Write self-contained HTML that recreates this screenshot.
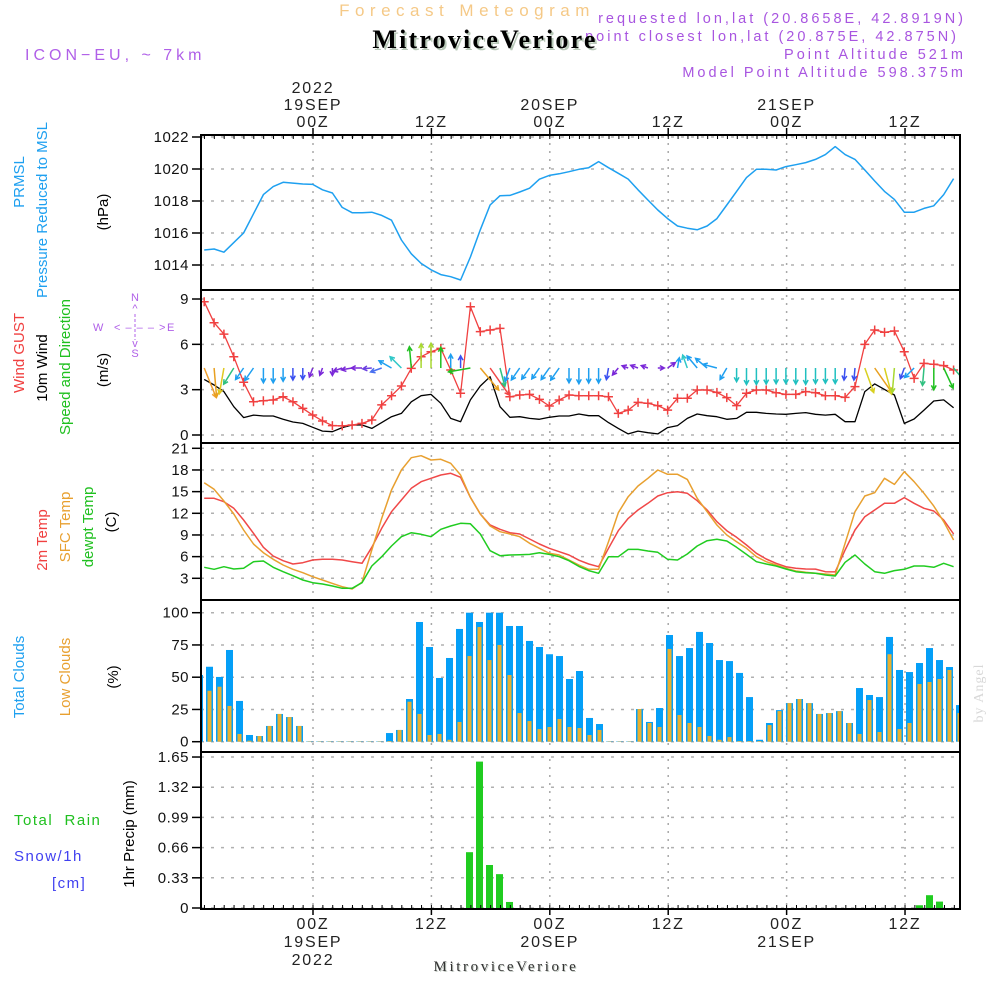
<!DOCTYPE html>
<html><head><meta charset="utf-8"><title>Meteogram MitroviceVeriore</title>
<style>
html,body{margin:0;padding:0;background:#fff;}
svg{display:block;font-family:"Liberation Sans",sans-serif;}
.t{font-size:16px;fill:#222;letter-spacing:1.8px;}
.tk{font-size:15px;fill:#111;letter-spacing:0.5px;}
.lab{font-size:15px;}
.pr{font-size:14.5px;fill:#a855e0;letter-spacing:3px;}
</style></head>
<body>
<svg id="chart" width="1000" height="1000" viewBox="0 0 1000 1000" xmlns="http://www.w3.org/2000/svg">
<defs>
<clipPath id="plotClip"><rect x="201" y="135" width="759" height="775"/></clipPath>
</defs>
<!-- header -->
<text x="467" y="16" text-anchor="middle" style="font-size:17px;fill:#f5c987;letter-spacing:5.5px">Forecast Meteogram</text>
<text class="pr" x="966" y="23" text-anchor="end">requested lon,lat (20.8658E, 42.8919N)</text>
<text class="pr" x="959" y="41" text-anchor="end">point closest lon,lat (20.875E, 42.875N)</text>
<text class="pr" x="966" y="59" text-anchor="end">Point Altitude 521m</text>
<text class="pr" x="966" y="77" text-anchor="end">Model Point Altitude 598.375m</text>
<text x="487" y="50" text-anchor="middle" style="font-family:'Liberation Serif',serif;font-weight:bold;font-size:26px;fill:#b8c8b8;letter-spacing:2.2px">MitroviceVeriore</text>
<text x="485" y="48" text-anchor="middle" style="font-family:'Liberation Serif',serif;font-weight:bold;font-size:26px;fill:#000;letter-spacing:2.2px">MitroviceVeriore</text>
<text x="25" y="60" style="font-size:16px;fill:#b060e8;letter-spacing:4px">ICON−EU, ~ 7km</text>

<g id="grid"></g>
<g id="marks" clip-path="url(#plotClip)"></g>
<g id="frames"></g>
<g id="axes"></g>

<!-- left labels -->
<g>
<text class="lab" transform="translate(24,182) rotate(-90)" text-anchor="middle" style="fill:#1ea0f0">PRMSL</text>
<text class="lab" transform="translate(47,210) rotate(-90)" text-anchor="middle" style="fill:#1ea0f0">Pressure Reduced to MSL</text>
<text class="lab" transform="translate(108,212) rotate(-90)" text-anchor="middle" style="fill:#000">(hPa)</text>
</g>
<g>
<text class="lab" transform="translate(24,353) rotate(-90)" text-anchor="middle" style="fill:#f04040">Wind GUST</text>
<text class="lab" transform="translate(47,368) rotate(-90)" text-anchor="middle" style="fill:#000">10m Wind</text>
<text class="lab" transform="translate(70,367) rotate(-90)" text-anchor="middle" style="fill:#20c020">Speed and Direction</text>
<text class="lab" transform="translate(108,370) rotate(-90)" text-anchor="middle" style="fill:#000">(m/s)</text>
<g style="font-size:11px;fill:#b060e8">
<text x="135" y="301" text-anchor="middle">N</text>
<text x="135" y="312" text-anchor="middle">^</text>
<text x="93" y="331">W</text>
<text x="114" y="331" style="letter-spacing:1px">&lt; ‒ ‒ ‒ &gt;</text>
<text x="167" y="331">E</text>
<text x="135" y="347" text-anchor="middle">v</text>
<text x="135" y="357" text-anchor="middle">S</text>
<line x1="135" y1="314" x2="135" y2="340" stroke="#b060e8" stroke-width="1" stroke-dasharray="3,2"/>
</g>
</g>
<g>
<text class="lab" transform="translate(47,540) rotate(-90)" text-anchor="middle" style="fill:#f04040">2m Temp</text>
<text class="lab" transform="translate(70,527) rotate(-90)" text-anchor="middle" style="fill:#e8a030">SFC Temp</text>
<text class="lab" transform="translate(93,527) rotate(-90)" text-anchor="middle" style="fill:#20c020">dewpt Temp</text>
<text class="lab" transform="translate(116,522) rotate(-90)" text-anchor="middle" style="fill:#000">(C)</text>
</g>
<g>
<text class="lab" transform="translate(24,677) rotate(-90)" text-anchor="middle" style="fill:#1ea0f0">Total Clouds</text>
<text class="lab" transform="translate(70,677) rotate(-90)" text-anchor="middle" style="fill:#e8a030">Low Clouds</text>
<text class="lab" transform="translate(118,677) rotate(-90)" text-anchor="middle" style="fill:#000">(%)</text>
</g>
<g>
<text x="14" y="825" style="font-size:15px;fill:#20c020;letter-spacing:1.5px" xml:space="preserve">Total  Rain</text>
<text x="14" y="861" style="font-size:15px;fill:#4040f0;letter-spacing:1.5px">Snow/1h</text>
<text x="52" y="888" style="font-size:15px;fill:#4040f0;letter-spacing:1.5px">[cm]</text>
<text class="lab" transform="translate(134,834) rotate(-90)" text-anchor="middle" style="fill:#000">1hr Precip (mm)</text>
</g>
<text transform="translate(983,693) rotate(-90)" text-anchor="middle" style="font-family:'Liberation Serif',serif;font-size:14px;fill:#d8d8d8;letter-spacing:1px">by Angel</text>
<text x="507" y="972" text-anchor="middle" style="font-family:'Liberation Serif',serif;font-size:15px;fill:#c0c8c0;letter-spacing:2.6px">MitroviceVeriore</text>
<text x="506" y="971" text-anchor="middle" style="font-family:'Liberation Serif',serif;font-size:15px;fill:#333;letter-spacing:2.6px">MitroviceVeriore</text>
</svg>
<script>
// ---------- data ----------
const pressure=[1014.94,1015.0,1014.8,1015.4,1016.0,1017.2,1018.4,1018.9,1019.17,1019.12,1019.06,1019.04,1018.7,1018.5,1017.6,1017.27,1017.27,1017.3,1017.1,1016.8,1015.56,1014.7,1014.1,1013.7,1013.4,1013.27,1013.06,1014.5,1016.2,1017.75,1018.33,1018.35,1018.56,1018.8,1019.36,1019.6,1019.7,1019.83,1019.98,1020.08,1020.46,1020.08,1019.73,1019.37,1018.7,1018.06,1017.44,1016.9,1016.44,1016.3,1016.2,1016.44,1016.9,1017.75,1018.6,1019.46,1019.98,1019.98,1019.94,1020.15,1020.27,1020.4,1020.6,1020.9,1021.4,1020.9,1020.6,1019.94,1019.25,1018.6,1018.1,1017.3,1017.3,1017.54,1017.7,1018.4,1019.4];
const gust=[8.82,7.43,6.68,5.18,3.49,2.2,2.27,2.32,2.53,2.2,1.76,1.32,0.93,0.62,0.6,0.66,0.77,0.99,1.99,2.6,3.24,4.41,5.18,5.51,5.73,4.3,2.76,8.49,6.84,6.95,7.06,2.53,2.65,2.69,2.36,1.92,2.32,2.65,2.6,2.6,2.6,2.53,1.43,1.65,2.16,2.1,1.94,1.65,2.43,2.43,2.98,2.98,2.82,2.47,1.94,2.76,2.98,2.98,2.8,2.69,2.69,2.87,2.8,2.6,2.6,2.49,3.2,6.0,6.95,6.8,6.88,5.51,3.75,4.74,4.68,4.59,4.3];
const wind=[3.68,3.31,2.87,1.87,1.15,1.32,1.26,1.26,1.04,0.86,0.77,0.51,0.26,0.22,0.49,0.66,0.66,0.44,0.82,1.21,1.43,2.2,2.6,2.69,2.1,1.1,0.88,2.32,3.24,3.86,1.87,1.17,1.21,1.1,1.04,1.17,1.26,1.26,1.39,1.28,1.28,0.82,0.44,0.07,0.26,0.15,0.07,0.49,0.62,1.1,1.39,1.28,1.21,1.04,1.1,1.5,1.5,1.43,1.39,1.37,1.43,1.48,1.37,1.32,1.37,0.88,0.88,2.87,3.38,3.02,2.65,0.77,1.06,1.65,2.25,2.32,1.81];
const windDir=[158,175,190,212,215,215,180,180,180,180,180,200,200,180,250,260,270,265,250,300,315,355,0,0,0,0,0,260,140,145,165,200,215,215,215,215,215,180,180,180,180,190,220,290,290,290,90,55,10,340,320,310,285,210,180,180,180,180,180,180,180,180,180,180,180,185,185,160,145,165,185,200,225,185,180,155,140];
const windColor=["#f0a030","#e8a020","#e0c820","#30c080","#1e9ff0","#1e9ff0","#1e9ff0","#1e9ff0","#1e9ff0","#3a50f0","#3a50f0","#7a28d8","#7a28d8","#7a28d8","#7a28d8","#7a28d8","#7a28d8","#6a40e0","#4a70f0","#1e9ff0","#30c8c8","#20c020","#a8d830","#a8d830","#20c020","#1e9ff0","#3a50f0","#20c020","#e8a020","#f04848","#30c080","#1e9ff0","#1e9ff0","#1e9ff0","#1e9ff0","#1e9ff0","#1e9ff0","#1e9ff0","#1e9ff0","#1e9ff0","#1e9ff0","#3a50f0","#7a28d8","#7a28d8","#7a28d8","#7a28d8","#7a28d8","#7a28d8","#1e9ff0","#30c8c8","#1e9ff0","#1e9ff0","#1e9ff0","#1e9ff0","#20c0c0","#20c0c0","#20c0c0","#20c0c0","#20c0c0","#20c0c0","#20c0c0","#20c0c0","#20c0c0","#20c0c0","#20c0c0","#3a50f0","#3a50f0","#d8d020","#e8a020","#d8d020","#a8d830","#3a50f0","#1e9ff0","#30c080","#20c020","#20c020","#30c080"];
const temp2m=[14.08,14.08,13.6,12.69,11.07,9.23,7.29,6.09,5.44,4.98,5.16,5.53,5.63,5.63,5.53,5.3,5.08,7.29,9.92,12.22,13.84,15.46,16.38,16.85,17.3,17.54,16.98,14.2,11.9,10.38,9.78,9.31,9.13,8.44,7.75,7.15,6.68,6.22,5.5,4.98,4.6,7.15,9.59,11.3,12.46,13.38,14.4,14.85,14.99,14.77,13.75,12.46,10.84,9.59,8.68,7.61,6.46,5.67,5.08,4.61,4.38,4.29,4.27,3.91,3.88,6.92,9.69,11.53,12.46,13.38,13.38,14.17,13.38,12.69,12.32,11.07,9.13];
const tempSfc=[16.24,15.32,13.7,11.9,9.69,7.75,6.55,5.63,4.84,4.25,3.78,3.22,2.76,2.3,1.84,1.52,2.45,6.92,11.3,15.23,18.0,19.7,19.98,19.38,19.48,18.92,17.3,14.2,11.9,10.24,9.45,9.13,8.76,7.85,7.15,6.46,6.22,5.53,4.84,4.25,4.25,8.07,12.08,14.3,15.78,16.85,18.0,17.4,17.4,16.7,14.08,12.22,10.38,9.0,8.07,7.15,5.99,5.3,4.84,4.38,4.01,3.83,3.69,3.6,3.46,7.85,12.22,14.4,14.85,16.85,16.0,17.76,16.38,14.77,13.0,10.84,8.3];
const dewpt=[4.52,4.25,4.61,4.29,4.38,5.3,5.39,4.52,3.91,3.36,2.76,2.39,2.21,1.93,1.62,1.62,2.39,4.7,5.99,7.47,8.76,9.31,9.09,8.76,9.78,10.24,10.61,10.55,9.13,6.82,6.13,6.22,6.27,6.31,6.55,6.31,5.99,5.44,4.65,4.06,3.69,5.99,5.99,7.0,7.0,6.78,6.6,5.63,5.53,6.36,7.47,8.21,8.4,8.16,7.29,6.31,5.3,4.98,4.7,4.29,3.91,3.78,3.69,3.46,3.32,5.21,6.22,4.98,3.91,3.69,4.06,4.25,4.7,4.7,4.52,5.08,4.61];
const totalClouds=[51.7,58.1,50.2,71.1,31.6,5.2,4.4,12.2,21.5,19.1,12.2,0.3,0.3,0.3,0.3,0.3,0.3,0.3,0.3,6.7,9.1,33.1,92.8,73.4,49.4,64.9,87.4,100,92.8,100,100,89.7,89.7,78.1,73.4,67.8,66.4,48.6,54.8,18.4,13.7,0.3,0.3,0.3,25.3,15.3,26.1,82.7,66.4,72.6,85.1,76.5,63.3,62.5,53.3,34.6,1.5,14.5,24.5,29.9,33.1,29.9,21.5,22.2,23.7,14.5,41.6,36.2,34.6,81.2,55.6,54.0,61.0,72.6,63.3,57.9,28.4];
const lowClouds=[35.4,39.5,42.6,27.7,6.0,0.8,4.4,12.2,21.5,19.1,12.2,0.3,0.3,0.3,0.3,0.3,0.3,0.3,0.3,0.5,9.1,31.0,21.5,5.2,6.0,1.5,15.3,66.4,88.9,63.3,75,51.7,22.2,16.0,9.8,11.4,17.6,11.4,10.6,5.2,9.1,0.3,0.3,0.3,25.3,14.5,11.4,71.9,20.7,14.5,11.4,4.4,1.5,3.6,0.5,0.5,0.5,12.9,23.7,29.9,33.1,29.9,21.5,22.2,23.7,14.5,6.0,32.3,7.5,67.8,9.8,14.5,44.7,46.3,48.6,55.6,22.2];
const precip=[0,0,0,0,0,0,0,0,0,0,0,0,0,0,0,0,0,0,0,0,0,0,0,0,0,0,0,0.61,1.6,0.47,0.37,0.066,0,0,0,0,0,0,0,0,0,0,0,0,0,0,0,0,0,0,0,0,0,0,0,0,0,0,0,0,0,0,0,0,0,0,0,0,0,0,0,0,0.03,0.14,0.07,0,0];
const timeTicks=[0,12,24,36,48,60];
const timeZ=["00Z","12Z","00Z","12Z","00Z","12Z"];
const timeDay=["19SEP","","20SEP","","21SEP",""];
const timeYear=["2022","","","","",""];
const pTicks=[1014,1016,1018,1020,1022];
const wTicks=[0,3,6,9];
const tTicks=[3,6,9,12,15,18,21];
const cTicks=[0,25,50,75,100];
const rTicks=[0,0.33,0.66,0.99,1.32,1.65];

// ---------- axes ----------
const X0=201,X1=960;
const xIdx=i=>204.2+i*9.86;
const xBar=k=>199.5+k*10;
const xHour=h=>313+h*9.867;
const yP=p=>265-(p-1014)*16;
const yW=v=>435-v*15.11;
const yT=t=>578.3-(t-3)*7.222;
const yC=c=>741.7-c*1.29;
const yR=r=>908-r*91.5;
const panels=[[135,290],[290,443],[443,600],[600,752],[752,909]];

const NS="http://www.w3.org/2000/svg";
function mk(tag,attrs,parent){const e=document.createElementNS(NS,tag);for(const k in attrs)e.setAttribute(k,attrs[k]);parent.appendChild(e);return e;}
const G=document.getElementById('grid'),M=document.getElementById('marks'),F=document.getElementById('frames'),A=document.getElementById('axes');

timeTicks.forEach(h=>{
  const l=mk('line',{x1:xHour(h),x2:xHour(h),y1:135,y2:909,stroke:'#a8a8a8','stroke-width':1.5,'stroke-dasharray':'2,6'},G);
  
  
});
function hgrid(ticks,fy,lab){
  ticks.forEach((t,j)=>{
    const y=fy(t);
    const l=mk('line',{x1:X0,x2:X1,y1:y,y2:y,stroke:'#b0b0b0','stroke-width':1.5,'stroke-dasharray':'3,7'},G);
    
    
    const tk=mk('line',{x1:192,x2:X0,y1:y,y2:y,stroke:'#000','stroke-width':1.5},A);
    
    
    const tx=mk('text',{x:189,y:y+5,'text-anchor':'end',class:'tk'},A);
    tx.textContent=lab?lab(t):String(t);
    
    
  });
}
hgrid(pTicks,yP);
hgrid(wTicks,yW);
hgrid(tTicks,yT);
hgrid(cTicks,yC);
hgrid(rTicks,yR,t=>t===0?'0':t.toFixed(2));

totalClouds.forEach((c,k)=>{
  const y=yC(c);
  const r=mk('rect',{x:xBar(k)-3.5,y:y,width:7,height:741.7-y,fill:'#049ff7'},M);
  
  
});
lowClouds.forEach((c,k)=>{
  const y=yC(c);
  const r=mk('rect',{x:xBar(k)-2,y:y,width:4,height:741.7-y,fill:'#e8b030'},M);
  
  
});
precip.forEach((p,k)=>{
  if(p<=0)return;
  const y=yR(p);
  const r=mk('rect',{x:xBar(k)-3.5,y:y,width:7,height:908-y,fill:'#20cc20'},M);
  
  
});

function line(arr,fy,color,name,w){
  const d=arr.map((v,i)=>(i?'L':'M')+xIdx(i).toFixed(1)+','+fy(v).toFixed(1)).join('');
  const p=mk('path',{d:d,fill:'none',stroke:color,'stroke-width':w||1.5,'stroke-linejoin':'round'},M);
  
  
}
line(pressure,yP,'#1ea0f0','pressure-line');
line(wind,yW,'#000','wind-speed-line',1.3);
line(gust,yW,'#f04040','wind-gust-line',1.3);
gust.forEach((v,i)=>{
  const x=xIdx(i),y=yW(v);
  const p=mk('path',{d:`M${x-4.5},${y}H${x+4.5}M${x},${y-4.5}V${y+4.5}`,stroke:'#f04040','stroke-width':1.5},M);
  
  
});
windDir.forEach((dg,i)=>{
  const len=6+7*wind[i];
  const a=dg*Math.PI/180;
  const x0=xIdx(i),y0=368;
  const x1=x0+len*Math.sin(a),y1=y0-len*Math.cos(a);
  const h=5,b1=a+Math.PI-0.5,b2=a+Math.PI+0.5;
  const d=`M${x0.toFixed(1)},${y0}L${x1.toFixed(1)},${y1.toFixed(1)}M${(x1+h*Math.sin(b1)).toFixed(1)},${(y1-h*Math.cos(b1)).toFixed(1)}L${x1.toFixed(1)},${y1.toFixed(1)}L${(x1+h*Math.sin(b2)).toFixed(1)},${(y1-h*Math.cos(b2)).toFixed(1)}`;
  const p=mk('path',{d:d,fill:'none',stroke:windColor[i],'stroke-width':1.5},M);
  
  
});
line(temp2m,yT,'#f04848','temp-2m-line');
line(tempSfc,yT,'#e8a030','temp-sfc-line');
line(dewpt,yT,'#20cc20','dewpoint-line');

panels.forEach(([a,b])=>{
  const r=mk('rect',{x:X0,y:a,width:X1-X0,height:b-a,fill:'none',stroke:'#000','stroke-width':2},F);
  
  
});
for(let h=-11;h<=65;h++){
  const x=xHour(h);
  const t1=mk('line',{x1:x,x2:x,y1:135,y2:139,stroke:'#000','stroke-width':1},A);
  
  
  const t2=mk('line',{x1:x,x2:x,y1:905,y2:909,stroke:'#000','stroke-width':1},A);
  
  
}
timeTicks.forEach((h,j)=>{
  const x=xHour(h);
  const a1=mk('line',{x1:x,x2:x,y1:128,y2:135,stroke:'#000','stroke-width':1.5},A);
  
  
  const a2=mk('line',{x1:x,x2:x,y1:909,y2:915,stroke:'#000','stroke-width':1.5},A);
  
  
  const rows=[[timeZ[j],127,929],[timeDay[j],110,947],[timeYear[j],93,965]];
  rows.forEach(([s,yt,yb])=>{
    if(!s)return;
    const t=mk('text',{x:x,y:yt,'text-anchor':'middle',class:'t'},A);
    t.textContent=s;
    
    
    const u=mk('text',{x:x,y:yb,'text-anchor':'middle',class:'t'},A);
    u.textContent=s;
    
    
  });
});
</script>
</body></html>
